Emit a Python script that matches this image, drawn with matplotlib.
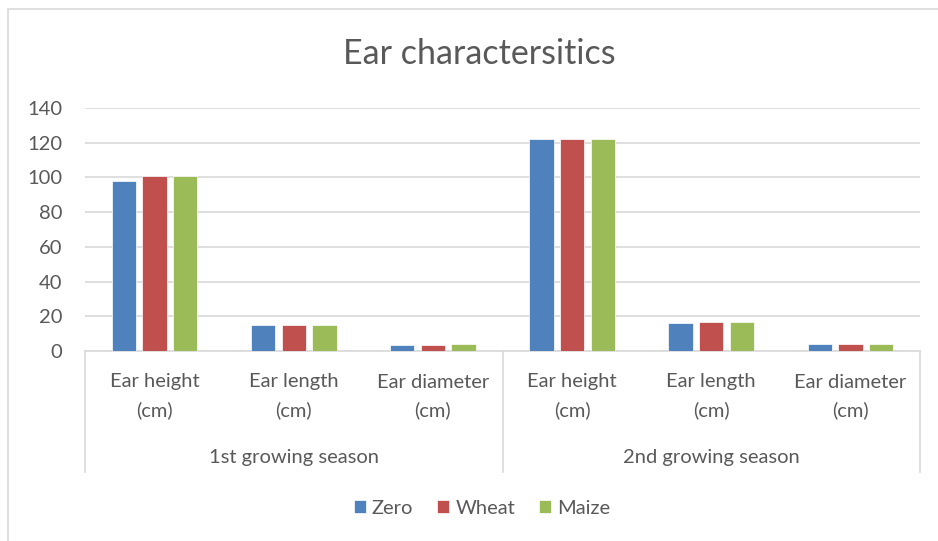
import numpy as np
import matplotlib
matplotlib.use("Agg")
import matplotlib.pyplot as plt
from matplotlib.patches import Rectangle

# data
seasons = ["1st growing season", "2nd growing season"]
traits = ["Ear height", "Ear length", "Ear diameter"]
zero = [98, 15.2, 3.7, 122, 16.3, 4.1]
wheat = [101, 15.0, 3.7, 122, 16.5, 4.1]
maize = [101, 15.0, 3.8, 122, 16.6, 4.1]
series_names = ["Zero", "Wheat", "Maize"]
colors = ["#4F81BD", "#C0504D", "#9BBB59"]
yticks = [0, 20, 40, 60, 80, 100, 120, 140]

plt.rcParams["font.family"] = ["Lato", "DejaVu Sans"]
txt = "#595959"
grid = "#D9D9D9"
fs = 14.5

W, H = 938, 541
fig = plt.figure(figsize=(W / 100, H / 100), dpi=100)

# outer chart border
fig.patches.append(Rectangle((8 / W, -0.01), (W - 7) / W, (H - 9) / H + 0.01,
                             transform=fig.transFigure, fill=False, edgecolor=grid, linewidth=1.2))

x0, x1, yb, yt = 85, 920, 351, 108
ax = fig.add_axes([x0 / W, (H - yb) / H, (x1 - x0) / W, (yb - yt) / H])

n = len(zero)
x = np.arange(n)
width = 0.175
step = 0.22
for i, (vals, name, c) in enumerate(zip([zero, wheat, maize], series_names, colors)):
    ax.bar(x + (i - 1) * step, vals, width, color=c, label=name, zorder=3,
           edgecolor="white", linewidth=0.5)

ax.set_xlim(-0.5, n - 0.5)
ax.set_ylim(0, 140)
ax.set_yticks(yticks)
ax.set_yticklabels([str(v) for v in yticks], fontsize=fs, color=txt)
ax.yaxis.grid(True, color=grid, linewidth=1.2, zorder=0)
ax.tick_params(axis="y", length=0, pad=16.5)
ax.set_xticks([])
for s in ["top", "right", "left"]:
    ax.spines[s].set_visible(False)
ax.spines["bottom"].set_color(grid)
ax.spines["bottom"].set_linewidth(1.2)

# two-level category axis
ph = yb - yt
for k in range(n):
    ax.text(k, -(382 - yb) / ph, traits[k % 3], transform=ax.get_xaxis_transform(),
            ha="center", va="center", fontsize=fs, color=txt)
    ax.text(k, -(410 - yb) / ph, "(cm)", transform=ax.get_xaxis_transform(),
            ha="center", va="center", fontsize=fs, color=txt)
for j, s in enumerate(seasons):
    ax.text(j * 3 + 1, -(458 - yb) / ph, s, transform=ax.get_xaxis_transform(),
            ha="center", va="center", fontsize=fs, color=txt)
for xs in [-0.5, 2.5, 5.5]:
    ax.plot([xs, xs], [0, -(472 - yb) / ph], transform=ax.get_xaxis_transform(),
            color=grid, linewidth=1.2, clip_on=False)

fig.text(479 / W, (H - 54) / H, "Ear charactersitics", ha="center", va="center",
         fontsize=24.5, color=txt)

ax.legend(loc="center", bbox_to_anchor=(482 / W, (H - 508) / H), bbox_transform=fig.transFigure,
          ncol=3, frameon=False, fontsize=fs, labelcolor=txt, handlelength=0.6,
          handleheight=0.6, handletextpad=0.3, columnspacing=1.2)

fig.savefig("out.png", dpi=100)
